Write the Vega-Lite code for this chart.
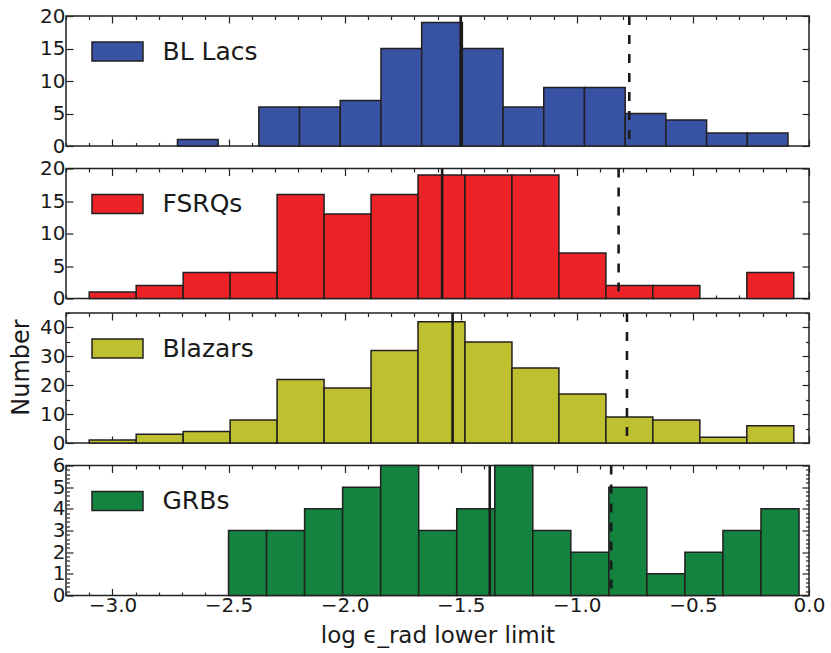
{
  "$schema": "https://vega.github.io/schema/vega-lite/v6.json",
  "background": "white",
  "padding": {"left": 8, "top": 5, "right": 5, "bottom": 5},
  "spacing": 0.5,
  "datasets": {
    "hist": [
      {"series": "BL Lacs", "x0": -2.7200, "x1": -2.5447, "count": 1},
      {"series": "BL Lacs", "x0": -2.3694, "x1": -2.1941, "count": 6},
      {"series": "BL Lacs", "x0": -2.1941, "x1": -2.0188, "count": 6},
      {"series": "BL Lacs", "x0": -2.0188, "x1": -1.8435, "count": 7},
      {"series": "BL Lacs", "x0": -1.8435, "x1": -1.6682, "count": 15},
      {"series": "BL Lacs", "x0": -1.6682, "x1": -1.4929, "count": 19},
      {"series": "BL Lacs", "x0": -1.4929, "x1": -1.3176, "count": 15},
      {"series": "BL Lacs", "x0": -1.3176, "x1": -1.1423, "count": 6},
      {"series": "BL Lacs", "x0": -1.1423, "x1": -0.9670, "count": 9},
      {"series": "BL Lacs", "x0": -0.9670, "x1": -0.7917, "count": 9},
      {"series": "BL Lacs", "x0": -0.7917, "x1": -0.6164, "count": 5},
      {"series": "BL Lacs", "x0": -0.6164, "x1": -0.4411, "count": 4},
      {"series": "BL Lacs", "x0": -0.4411, "x1": -0.2658, "count": 2},
      {"series": "BL Lacs", "x0": -0.2658, "x1": -0.0905, "count": 2},
      {"series": "FSRQs", "x0": -3.1000, "x1": -2.8977, "count": 1},
      {"series": "FSRQs", "x0": -2.8977, "x1": -2.6954, "count": 2},
      {"series": "FSRQs", "x0": -2.6954, "x1": -2.4931, "count": 4},
      {"series": "FSRQs", "x0": -2.4931, "x1": -2.2908, "count": 4},
      {"series": "FSRQs", "x0": -2.2908, "x1": -2.0885, "count": 16},
      {"series": "FSRQs", "x0": -2.0885, "x1": -1.8862, "count": 13},
      {"series": "FSRQs", "x0": -1.8862, "x1": -1.6839, "count": 16},
      {"series": "FSRQs", "x0": -1.6839, "x1": -1.4816, "count": 19},
      {"series": "FSRQs", "x0": -1.4816, "x1": -1.2793, "count": 19},
      {"series": "FSRQs", "x0": -1.2793, "x1": -1.0770, "count": 19},
      {"series": "FSRQs", "x0": -1.0770, "x1": -0.8747, "count": 7},
      {"series": "FSRQs", "x0": -0.8747, "x1": -0.6724, "count": 2},
      {"series": "FSRQs", "x0": -0.6724, "x1": -0.4701, "count": 2},
      {"series": "FSRQs", "x0": -0.2678, "x1": -0.0655, "count": 4},
      {"series": "Blazars", "x0": -3.1000, "x1": -2.8977, "count": 1},
      {"series": "Blazars", "x0": -2.8977, "x1": -2.6954, "count": 3},
      {"series": "Blazars", "x0": -2.6954, "x1": -2.4931, "count": 4},
      {"series": "Blazars", "x0": -2.4931, "x1": -2.2908, "count": 8},
      {"series": "Blazars", "x0": -2.2908, "x1": -2.0885, "count": 22},
      {"series": "Blazars", "x0": -2.0885, "x1": -1.8862, "count": 19},
      {"series": "Blazars", "x0": -1.8862, "x1": -1.6839, "count": 32},
      {"series": "Blazars", "x0": -1.6839, "x1": -1.4816, "count": 42},
      {"series": "Blazars", "x0": -1.4816, "x1": -1.2793, "count": 35},
      {"series": "Blazars", "x0": -1.2793, "x1": -1.0770, "count": 26},
      {"series": "Blazars", "x0": -1.0770, "x1": -0.8747, "count": 17},
      {"series": "Blazars", "x0": -0.8747, "x1": -0.6724, "count": 9},
      {"series": "Blazars", "x0": -0.6724, "x1": -0.4701, "count": 8},
      {"series": "Blazars", "x0": -0.4701, "x1": -0.2678, "count": 2},
      {"series": "Blazars", "x0": -0.2678, "x1": -0.0655, "count": 6},
      {"series": "GRBs", "x0": -2.5000, "x1": -2.3362, "count": 3},
      {"series": "GRBs", "x0": -2.3362, "x1": -2.1724, "count": 3},
      {"series": "GRBs", "x0": -2.1724, "x1": -2.0086, "count": 4},
      {"series": "GRBs", "x0": -2.0086, "x1": -1.8448, "count": 5},
      {"series": "GRBs", "x0": -1.8448, "x1": -1.6810, "count": 6},
      {"series": "GRBs", "x0": -1.6810, "x1": -1.5172, "count": 3},
      {"series": "GRBs", "x0": -1.5172, "x1": -1.3534, "count": 4},
      {"series": "GRBs", "x0": -1.3534, "x1": -1.1896, "count": 6},
      {"series": "GRBs", "x0": -1.1896, "x1": -1.0258, "count": 3},
      {"series": "GRBs", "x0": -1.0258, "x1": -0.8620, "count": 2},
      {"series": "GRBs", "x0": -0.8620, "x1": -0.6982, "count": 5},
      {"series": "GRBs", "x0": -0.6982, "x1": -0.5344, "count": 1},
      {"series": "GRBs", "x0": -0.5344, "x1": -0.3706, "count": 2},
      {"series": "GRBs", "x0": -0.3706, "x1": -0.2068, "count": 3},
      {"series": "GRBs", "x0": -0.2068, "x1": -0.0430, "count": 4}
    ],
    "lines": [
      {"series": "BL Lacs", "value": -1.500, "kind": "median"},
      {"series": "BL Lacs", "value": -0.774, "kind": "limit"},
      {"series": "FSRQs", "value": -1.580, "kind": "median"},
      {"series": "FSRQs", "value": -0.820, "kind": "limit"},
      {"series": "Blazars", "value": -1.535, "kind": "median"},
      {"series": "Blazars", "value": -0.784, "kind": "limit"},
      {"series": "GRBs", "value": -1.375, "kind": "median"},
      {"series": "GRBs", "value": -0.852, "kind": "limit"}
    ]
  },
  "vconcat": [
    {
      "width": 743, "height": 130,
      "layer": [
        {
          "data": {"name": "hist"},
          "transform": [{"filter": "datum.series === 'BL Lacs'"}],
          "mark": {"type": "bar", "stroke": "#231f20", "strokeWidth": 1.5, "opacity": 1},
          "encoding": {
            "x": {"field": "x0", "type": "quantitative", "scale": {"domain": [-3.2, 0], "nice": false, "zero": false},
              "axis": {"orient": "bottom", "values": [-3.2,-3.1,-3,-2.9,-2.8,-2.7,-2.6,-2.5,-2.4,-2.3,-2.2,-2.1,-2,-1.9,-1.8,-1.7,-1.6,-1.5,-1.4,-1.3,-1.2,-1.1,-1,-0.9,-0.8,-0.7,-0.6,-0.5,-0.4,-0.3,-0.2,-0.1,0], "labels": false, "title": null,
                "tickSize": {"condition": {"test": "abs(datum.value*2-round(datum.value*2))<0.001", "value": -7}, "value": -3.5}}},
            "x2": {"field": "x1"},
            "y": {"field": "count", "type": "quantitative", "scale": {"domain": [0, 20], "nice": false},
              "axis": {"orient": "left", "values": [0, 5, 10, 15, 20], "title": null, "tickSize": -7, "labelPadding": 8}},
            "y2": {"datum": 0},
            "color": {"field": "series", "type": "nominal", "scale": {"domain": ["BL Lacs"], "range": ["#3953a4"]},
              "legend": {"orient": "none", "legendX": 25, "legendY": 9, "title": null, "padding": 0, "symbolType": "M-1,-0.373L1,-0.373L1,0.373L-1,0.373Z", "symbolSize": 2601, "symbolStrokeColor": "#231f20", "symbolStrokeWidth": 1.5, "symbolOpacity": 1, "labelFontSize": 25, "labelFont": "DejaVu Sans", "labelColor": "#1a1a1a", "labelOffset": 18.5, "labelLimit": 300}}
          }
        },
        {
          "data": {"name": "hist"},
          "transform": [{"filter": "datum.series === 'BL Lacs'"}],
          "mark": {"type": "bar", "fillOpacity": 0, "strokeOpacity": 0},
          "encoding": {
            "x": {"field": "x0", "type": "quantitative",
              "axis": {"orient": "top", "values": [-3.2,-3.1,-3,-2.9,-2.8,-2.7,-2.6,-2.5,-2.4,-2.3,-2.2,-2.1,-2,-1.9,-1.8,-1.7,-1.6,-1.5,-1.4,-1.3,-1.2,-1.1,-1,-0.9,-0.8,-0.7,-0.6,-0.5,-0.4,-0.3,-0.2,-0.1,0], "labels": false, "title": null,
                "tickSize": {"condition": {"test": "abs(datum.value*2-round(datum.value*2))<0.001", "value": -7}, "value": -3.5}}},
            "x2": {"field": "x1"},
            "y": {"field": "count", "type": "quantitative",
              "axis": {"orient": "right", "values": [0, 5, 10, 15, 20], "labels": false, "title": null, "tickSize": -7}},
            "y2": {"datum": 0}
          }
        },
        {
          "data": {"name": "lines"},
          "transform": [{"filter": "datum.series === 'BL Lacs'"}],
          "mark": {"type": "rule", "color": "#1a1a1a", "strokeWidth": 2.6},
          "encoding": {
            "x": {"field": "value", "type": "quantitative", "axis": null},
            "strokeDash": {"field": "kind", "type": "nominal", "scale": {"domain": ["median", "limit"], "range": [[1, 0], [9, 10]]}, "legend": null}
          }
        }
      ],
      "resolve": {"axis": {"x": "independent", "y": "independent"}}
    },
    {
      "width": 743, "height": 130,
      "layer": [
        {
          "data": {"name": "hist"},
          "transform": [{"filter": "datum.series === 'FSRQs'"}],
          "mark": {"type": "bar", "stroke": "#231f20", "strokeWidth": 1.5, "opacity": 1},
          "encoding": {
            "x": {"field": "x0", "type": "quantitative", "scale": {"domain": [-3.2, 0], "nice": false, "zero": false},
              "axis": {"orient": "bottom", "values": [-3.2,-3.1,-3,-2.9,-2.8,-2.7,-2.6,-2.5,-2.4,-2.3,-2.2,-2.1,-2,-1.9,-1.8,-1.7,-1.6,-1.5,-1.4,-1.3,-1.2,-1.1,-1,-0.9,-0.8,-0.7,-0.6,-0.5,-0.4,-0.3,-0.2,-0.1,0], "labels": false, "title": null,
                "tickSize": {"condition": {"test": "abs(datum.value*2-round(datum.value*2))<0.001", "value": -7}, "value": -3.5}}},
            "x2": {"field": "x1"},
            "y": {"field": "count", "type": "quantitative", "scale": {"domain": [0, 20], "nice": false},
              "axis": {"orient": "left", "values": [0, 5, 10, 15, 20], "title": null, "tickSize": -7, "labelPadding": 8}},
            "y2": {"datum": 0},
            "color": {"field": "series", "type": "nominal", "scale": {"domain": ["FSRQs"], "range": ["#ec2227"]},
              "legend": {"orient": "none", "legendX": 25, "legendY": 9, "title": null, "padding": 0, "symbolType": "M-1,-0.373L1,-0.373L1,0.373L-1,0.373Z", "symbolSize": 2601, "symbolStrokeColor": "#231f20", "symbolStrokeWidth": 1.5, "symbolOpacity": 1, "labelFontSize": 25, "labelFont": "DejaVu Sans", "labelColor": "#1a1a1a", "labelOffset": 18.5, "labelLimit": 300}}
          }
        },
        {
          "data": {"name": "hist"},
          "transform": [{"filter": "datum.series === 'FSRQs'"}],
          "mark": {"type": "bar", "fillOpacity": 0, "strokeOpacity": 0},
          "encoding": {
            "x": {"field": "x0", "type": "quantitative",
              "axis": {"orient": "top", "values": [-3.2,-3.1,-3,-2.9,-2.8,-2.7,-2.6,-2.5,-2.4,-2.3,-2.2,-2.1,-2,-1.9,-1.8,-1.7,-1.6,-1.5,-1.4,-1.3,-1.2,-1.1,-1,-0.9,-0.8,-0.7,-0.6,-0.5,-0.4,-0.3,-0.2,-0.1,0], "labels": false, "title": null,
                "tickSize": {"condition": {"test": "abs(datum.value*2-round(datum.value*2))<0.001", "value": -7}, "value": -3.5}}},
            "x2": {"field": "x1"},
            "y": {"field": "count", "type": "quantitative",
              "axis": {"orient": "right", "values": [0, 5, 10, 15, 20], "labels": false, "title": null, "tickSize": -7}},
            "y2": {"datum": 0}
          }
        },
        {
          "data": {"name": "lines"},
          "transform": [{"filter": "datum.series === 'FSRQs'"}],
          "mark": {"type": "rule", "color": "#1a1a1a", "strokeWidth": 2.6},
          "encoding": {
            "x": {"field": "value", "type": "quantitative", "axis": null},
            "strokeDash": {"field": "kind", "type": "nominal", "scale": {"domain": ["median", "limit"], "range": [[1, 0], [9, 10]]}, "legend": null}
          }
        }
      ],
      "resolve": {"axis": {"x": "independent", "y": "independent"}}
    },
    {
      "width": 743, "height": 130,
      "layer": [
        {
          "data": {"name": "hist"},
          "transform": [{"filter": "datum.series === 'Blazars'"}],
          "mark": {"type": "bar", "stroke": "#231f20", "strokeWidth": 1.5, "opacity": 1},
          "encoding": {
            "x": {"field": "x0", "type": "quantitative", "scale": {"domain": [-3.2, 0], "nice": false, "zero": false},
              "axis": {"orient": "bottom", "values": [-3.2,-3.1,-3,-2.9,-2.8,-2.7,-2.6,-2.5,-2.4,-2.3,-2.2,-2.1,-2,-1.9,-1.8,-1.7,-1.6,-1.5,-1.4,-1.3,-1.2,-1.1,-1,-0.9,-0.8,-0.7,-0.6,-0.5,-0.4,-0.3,-0.2,-0.1,0], "labels": false, "title": null,
                "tickSize": {"condition": {"test": "abs(datum.value*2-round(datum.value*2))<0.001", "value": -7}, "value": -3.5}}},
            "x2": {"field": "x1"},
            "y": {"field": "count", "type": "quantitative", "scale": {"domain": [0, 45], "nice": false},
              "axis": {"orient": "left", "values": [0, 5, 10, 15, 20, 25, 30, 35, 40, 45], "labelExpr": "datum.value % 10 === 0 ? datum.label : ''", "title": "Number", "titleFontSize": 24, "titleAngle": -90, "titleAlign": "center", "titleBaseline": "alphabetic", "titleX": -38, "titleY": 54,
                "tickSize": {"condition": {"test": "datum.value % 10 === 0", "value": -7}, "value": -3.5}, "labelPadding": 8}},
            "y2": {"datum": 0},
            "color": {"field": "series", "type": "nominal", "scale": {"domain": ["Blazars"], "range": ["#bfc030"]},
              "legend": {"orient": "none", "legendX": 25, "legendY": 9, "title": null, "padding": 0, "symbolType": "M-1,-0.373L1,-0.373L1,0.373L-1,0.373Z", "symbolSize": 2601, "symbolStrokeColor": "#231f20", "symbolStrokeWidth": 1.5, "symbolOpacity": 1, "labelFontSize": 25, "labelFont": "DejaVu Sans", "labelColor": "#1a1a1a", "labelOffset": 18.5, "labelLimit": 300}}
          }
        },
        {
          "data": {"name": "hist"},
          "transform": [{"filter": "datum.series === 'Blazars'"}],
          "mark": {"type": "bar", "fillOpacity": 0, "strokeOpacity": 0},
          "encoding": {
            "x": {"field": "x0", "type": "quantitative",
              "axis": {"orient": "top", "values": [-3.2,-3.1,-3,-2.9,-2.8,-2.7,-2.6,-2.5,-2.4,-2.3,-2.2,-2.1,-2,-1.9,-1.8,-1.7,-1.6,-1.5,-1.4,-1.3,-1.2,-1.1,-1,-0.9,-0.8,-0.7,-0.6,-0.5,-0.4,-0.3,-0.2,-0.1,0], "labels": false, "title": null,
                "tickSize": {"condition": {"test": "abs(datum.value*2-round(datum.value*2))<0.001", "value": -7}, "value": -3.5}}},
            "x2": {"field": "x1"},
            "y": {"field": "count", "type": "quantitative",
              "axis": {"orient": "right", "values": [0, 5, 10, 15, 20, 25, 30, 35, 40, 45], "labels": false, "title": null,
                "tickSize": {"condition": {"test": "datum.value % 10 === 0", "value": -7}, "value": -3.5}}},
            "y2": {"datum": 0}
          }
        },
        {
          "data": {"name": "lines"},
          "transform": [{"filter": "datum.series === 'Blazars'"}],
          "mark": {"type": "rule", "color": "#1a1a1a", "strokeWidth": 2.6},
          "encoding": {
            "x": {"field": "value", "type": "quantitative", "axis": null},
            "strokeDash": {"field": "kind", "type": "nominal", "scale": {"domain": ["median", "limit"], "range": [[1, 0], [9, 10]]}, "legend": null}
          }
        }
      ],
      "resolve": {"axis": {"x": "independent", "y": "independent"}}
    },
    {
      "width": 743, "height": 130,
      "layer": [
        {
          "data": {"name": "hist"},
          "transform": [{"filter": "datum.series === 'GRBs'"}],
          "mark": {"type": "bar", "stroke": "#231f20", "strokeWidth": 1.5, "opacity": 1},
          "encoding": {
            "x": {"field": "x0", "type": "quantitative", "scale": {"domain": [-3.2, 0], "nice": false, "zero": false},
              "axis": {"orient": "bottom", "values": [-3.2,-3.1,-3,-2.9,-2.8,-2.7,-2.6,-2.5,-2.4,-2.3,-2.2,-2.1,-2,-1.9,-1.8,-1.7,-1.6,-1.5,-1.4,-1.3,-1.2,-1.1,-1,-0.9,-0.8,-0.7,-0.6,-0.5,-0.4,-0.3,-0.2,-0.1,0],
                "labelExpr": "abs(datum.value*2-round(datum.value*2))<0.001 ? format(datum.value, '.1f') : ''", "labelPadding": 7, "labelFlush": false, "labelOverlap": false,
                "title": "log ϵ_rad lower limit", "titleFontSize": 23, "titlePadding": 5,
                "tickSize": {"condition": {"test": "abs(datum.value*2-round(datum.value*2))<0.001", "value": -7}, "value": -3.5}}},
            "x2": {"field": "x1"},
            "y": {"field": "count", "type": "quantitative", "scale": {"domain": [0, 6], "nice": false},
              "axis": {"orient": "left", "values": [0,0.2,0.4,0.6,0.8,1,1.2,1.4,1.6,1.8,2,2.2,2.4,2.6,2.8,3,3.2,3.4,3.6,3.8,4,4.2,4.4,4.6,4.8,5,5.2,5.4,5.6,5.8,6], "labelExpr": "abs(datum.value-round(datum.value))<0.001 ? format(datum.value, 'd') : ''", "labelOverlap": false, "title": null,
                "tickSize": {"condition": {"test": "abs(datum.value-round(datum.value))<0.001", "value": -7}, "value": -3.5}, "labelPadding": 8}},
            "y2": {"datum": 0},
            "color": {"field": "series", "type": "nominal", "scale": {"domain": ["GRBs"], "range": ["#148340"]},
              "legend": {"orient": "none", "legendX": 25, "legendY": 9, "title": null, "padding": 0, "symbolType": "M-1,-0.373L1,-0.373L1,0.373L-1,0.373Z", "symbolSize": 2601, "symbolStrokeColor": "#231f20", "symbolStrokeWidth": 1.5, "symbolOpacity": 1, "labelFontSize": 25, "labelFont": "DejaVu Sans", "labelColor": "#1a1a1a", "labelOffset": 18.5, "labelLimit": 300}}
          }
        },
        {
          "data": {"name": "hist"},
          "transform": [{"filter": "datum.series === 'GRBs'"}],
          "mark": {"type": "bar", "fillOpacity": 0, "strokeOpacity": 0},
          "encoding": {
            "x": {"field": "x0", "type": "quantitative",
              "axis": {"orient": "top", "values": [-3.2,-3.1,-3,-2.9,-2.8,-2.7,-2.6,-2.5,-2.4,-2.3,-2.2,-2.1,-2,-1.9,-1.8,-1.7,-1.6,-1.5,-1.4,-1.3,-1.2,-1.1,-1,-0.9,-0.8,-0.7,-0.6,-0.5,-0.4,-0.3,-0.2,-0.1,0], "labels": false, "title": null,
                "tickSize": {"condition": {"test": "abs(datum.value*2-round(datum.value*2))<0.001", "value": -7}, "value": -3.5}}},
            "x2": {"field": "x1"},
            "y": {"field": "count", "type": "quantitative",
              "axis": {"orient": "right", "values": [0,0.2,0.4,0.6,0.8,1,1.2,1.4,1.6,1.8,2,2.2,2.4,2.6,2.8,3,3.2,3.4,3.6,3.8,4,4.2,4.4,4.6,4.8,5,5.2,5.4,5.6,5.8,6], "labels": false, "title": null,
                "tickSize": {"condition": {"test": "abs(datum.value-round(datum.value))<0.001", "value": -7}, "value": -3.5}}},
            "y2": {"datum": 0}
          }
        },
        {
          "data": {"name": "lines"},
          "transform": [{"filter": "datum.series === 'GRBs'"}],
          "mark": {"type": "rule", "color": "#1a1a1a", "strokeWidth": 2.6},
          "encoding": {
            "x": {"field": "value", "type": "quantitative", "axis": null},
            "strokeDash": {"field": "kind", "type": "nominal", "scale": {"domain": ["median", "limit"], "range": [[1, 0], [9, 10]]}, "legend": null}
          }
        }
      ],
      "resolve": {"axis": {"x": "independent", "y": "independent"}}
    }
  ],
  "resolve": {"scale": {"x": "independent", "y": "independent", "color": "independent", "strokeDash": "independent"}, "legend": {"color": "independent"}},
  "config": {
    "font": "DejaVu Sans",
    "view": {"stroke": "#222222", "strokeWidth": 1.5},
    "axis": {"labelFont": "DejaVu Sans", "titleFont": "DejaVu Sans", "labelColor": "#1a1a1a", "titleColor": "#1a1a1a", "tickColor": "#222222", "tickWidth": 1.2, "domain": false, "grid": false, "labelFontSize": 20, "titleFontWeight": "normal"}
  }
}
